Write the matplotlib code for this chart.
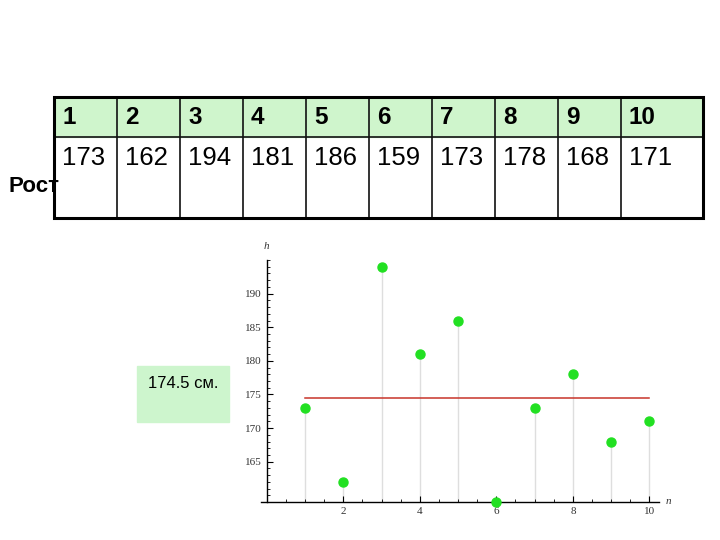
import numpy as np
import matplotlib
matplotlib.use('Agg')
import matplotlib.pyplot as plt
from matplotlib.patches import Rectangle
from matplotlib.ticker import MultipleLocator

# data
numbers = [1, 2, 3, 4, 5, 6, 7, 8, 9, 10]
heights = [173, 162, 194, 181, 186, 159, 173, 178, 168, 171]
mean_h = np.mean(heights)
row_label = 'Рост'
mean_label = '174.5 см.'

plt.rcParams['font.family'] = ['Liberation Sans', 'DejaVu Sans']

fig = plt.figure(figsize=(7.2, 5.4), dpi=100)
W, H = 720, 540

def fbox(x0, y0, x1, y1):
    # pixel box (top-left origin) -> figure fraction rect
    return [x0 / W, 1 - y1 / H, (x1 - x0) / W, (y1 - y0) / H]

# ---- table ----
tax = fig.add_axes(fbox(54, 97, 703, 218))
tax.axis('off')
col_w = np.array([63] * 9 + [82], dtype=float)
edges = np.concatenate([[0], np.cumsum(col_w)])
tax.set_xlim(0, edges[-1])
tax.set_ylim(0, 121)
hdr_y = 121 - 40
tax.add_patch(Rectangle((0, hdr_y), edges[-1], 40, color='#cff5cc', zorder=0))
for i, (n, h) in enumerate(zip(numbers, heights)):
    tax.text(edges[i] + 8, hdr_y + 20, str(n), fontsize=17.5, fontweight='bold',
             ha='left', va='center')
    tax.text(edges[i] + 8, hdr_y - 21, str(h), fontsize=18.5,
             ha='left', va='center')
for x in edges[1:-1]:
    tax.plot([x, x], [0, 121], color='#111111', lw=1.2, clip_on=False)
tax.plot([0, edges[-1]], [hdr_y, hdr_y], color='#111111', lw=1.2, clip_on=False)
tax.add_patch(Rectangle((0, 0), edges[-1], 121, fill=False, ec='black', lw=2.2,
                        clip_on=False, zorder=5))

fig.text(8 / W, 1 - 186 / H, row_label, fontsize=16, fontweight='bold',
         ha='left', va='center', zorder=10)

# ---- green note box ----
fig.patches.append(Rectangle((137 / W, 1 - 422 / H), 92 / W, 56 / H,
                             transform=fig.transFigure, color='#cdf5cd', zorder=0))
fig.text(183 / W, 1 - 384 / H, mean_label, fontsize=12, ha='center', va='center')

# ---- dot plot ----
ax = fig.add_axes(fbox(261, 260, 659, 502))
ax.set_xlim(-0.15, 10.25)
ax.set_ylim(159, 195)
ax.vlines(numbers, 159, heights, color='#dedede', lw=1, zorder=1)
ax.plot([numbers[0], numbers[-1]], [mean_h, mean_h], color='#c8342a', lw=1.1, zorder=2)
ax.plot(numbers, heights, 'o', color='#22e022', markersize=6.5, clip_on=False, zorder=4)

for s in ['top', 'right']:
    ax.spines[s].set_visible(False)
ax.spines['left'].set_position(('data', 0))
ax.spines['left'].set_linewidth(1)
ax.spines['bottom'].set_linewidth(1)
ax.xaxis.set_major_locator(MultipleLocator(2))
ax.xaxis.set_minor_locator(MultipleLocator(0.5))
ax.yaxis.set_major_locator(MultipleLocator(5))
ax.yaxis.set_minor_locator(MultipleLocator(1))
ax.set_xticks([2, 4, 6, 8, 10])
ax.set_yticks([165, 170, 175, 180, 185, 190])
ax.tick_params(which='major', direction='in', length=4, width=0.8,
               labelsize=8, labelcolor='#333333')
ax.tick_params(which='minor', direction='in', length=2.5, width=0.6)
for lbl in ax.get_xticklabels() + ax.get_yticklabels():
    lbl.set_fontfamily('Liberation Serif')
ax.text(0, 197, 'h', fontsize=8, style='italic', family='Liberation Serif',
        ha='center', va='center', color='#333333')
ax.text(10.5, 159, 'n', fontsize=8, style='italic', family='Liberation Serif',
        ha='center', va='center', color='#333333', clip_on=False)

fig.savefig('out.png', dpi=100)
